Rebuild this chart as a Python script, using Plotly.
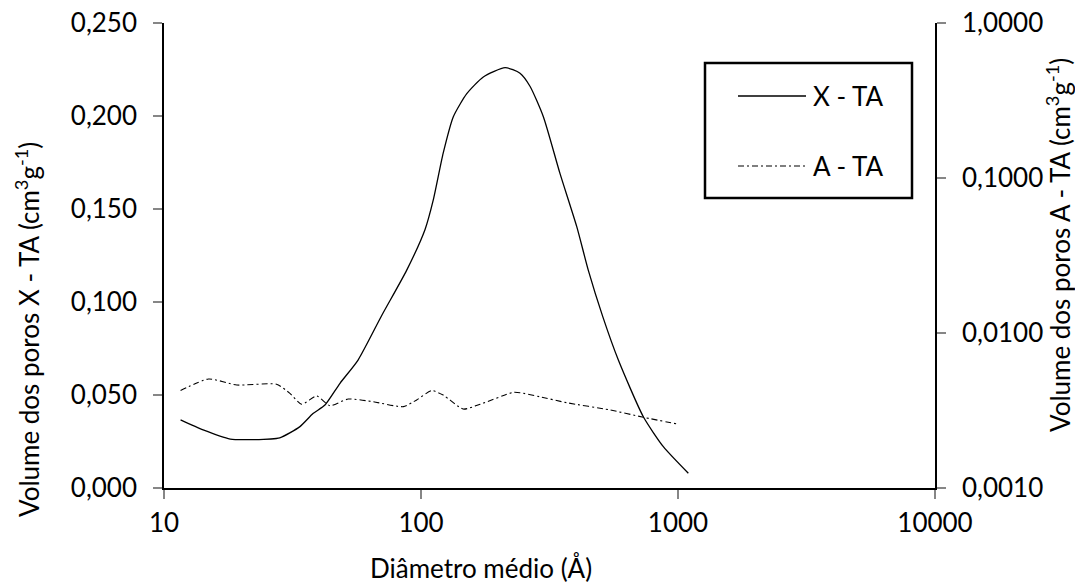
import plotly.graph_objects as go

# ---- data ----
x_xta = [11.6, 14.2, 18.1, 21.6, 28.2, 33.8, 38.0, 42.3, 48.4, 56.9, 70.5, 87.9,
         103.7, 111.7, 122.0, 133.6, 150.7, 174.8, 212.5, 242.8, 265.5, 299.3,
         347.5, 403.7, 447.8, 510.0, 586.0, 733.0, 877.0, 1097.0]
y_xta = [0.0366, 0.0312, 0.0263, 0.0260, 0.0270, 0.0330, 0.0400, 0.0446, 0.0563,
         0.0688, 0.0930, 0.1170, 0.1390, 0.1550, 0.1800, 0.1996, 0.2120, 0.2210,
         0.2260, 0.2230, 0.2160, 0.1996, 0.1690, 0.1405, 0.1170, 0.0920, 0.0688,
         0.0383, 0.0222, 0.0079]

x_ata = [11.6, 14.9, 19.2, 27.4, 30.9, 34.3, 39.3, 44.2, 52.1, 65.3, 85.4, 96.2,
         110.1, 122.0, 146.0, 169.8, 228.6, 242.8, 290.0, 369.0, 543.0, 733.0, 1002.0]
y_ata = [0.00425, 0.00505, 0.00462, 0.00467, 0.00408, 0.00347, 0.00392, 0.00340,
         0.00375, 0.00360, 0.00335, 0.00370, 0.00425, 0.00398, 0.00323, 0.00347,
         0.00414, 0.00412, 0.00388, 0.00355, 0.00319, 0.00286, 0.00258]

series_names = ["X - TA", "A - TA"]

x_ticks = [10, 100, 1000, 10000]
x_ticktext = ["10", "100", "1000", "10000"]
y1_ticks = [0.0, 0.05, 0.10, 0.15, 0.20, 0.25]
y1_ticktext = ["0,000", "0,050", "0,100", "0,150", "0,200", "0,250"]
y2_ticks = [0.001, 0.01, 0.1, 1.0]
y2_ticktext = ["0,0010", "0,0100", "0,1000", "1,0000"]

FONT = "Lato"
FS = 26
TICKC = "#868686"
DASH_A = "6px,3px,2px,3px"

# page-pixel -> paper helpers (plot area 164..935 x 23..488 on the page)
PX0, PX1, PY0, PY1 = 164, 935, 23, 488
def px(xp):
    return (xp - PX0) / (PX1 - PX0)
def py(yp):
    return (PY1 - yp) / (PY1 - PY0)

fig = go.Figure()
fig.add_trace(go.Scatter(x=x_xta, y=y_xta, mode="lines", name=series_names[0],
                         line=dict(color="black", width=1.3, shape="spline", smoothing=0.6),
                         yaxis="y"))
fig.add_trace(go.Scatter(x=x_ata, y=y_ata, mode="lines", name=series_names[1],
                         line=dict(color="black", width=1.1, shape="spline", smoothing=0.6,
                                   dash=DASH_A),
                         yaxis="y2"))

axis_common = dict(showgrid=False, zeroline=False, showline=True, linecolor="black",
                   linewidth=1.5, ticks="outside", ticklen=9, tickwidth=1.5,
                   tickcolor=TICKC, automargin=False,
                   tickfont=dict(family=FONT, size=FS, color="black"))

fig.update_layout(
    template="none",
    width=1075, height=584,
    margin=dict(l=164, r=140, t=23, b=96, autoexpand=False),
    paper_bgcolor="white", plot_bgcolor="white",
    font=dict(family=FONT, size=FS, color="black"),
    xaxis=dict(type="log", range=[1, 4], tickvals=x_ticks, ticktext=x_ticktext,
               ticklabelstandoff=2, **axis_common),
    yaxis=dict(range=[0, 0.25], tickvals=y1_ticks, ticktext=y1_ticktext,
               ticklabelstandoff=11, **axis_common),
    yaxis2=dict(type="log", range=[-3, 0], tickvals=y2_ticks, ticktext=y2_ticktext,
                overlaying="y", side="right", ticklabelstandoff=11, **axis_common),
    showlegend=False,
)

# legend box (drawn like the reference: long line samples)
fig.add_shape(type="rect", xref="paper", yref="paper",
              x0=px(705), x1=px(912), y0=py(198), y1=py(63),
              line=dict(color="black", width=2.5), fillcolor="white", layer="above")
fig.add_shape(type="line", xref="paper", yref="paper",
              x0=px(738), x1=px(806), y0=py(96), y1=py(96),
              line=dict(color="black", width=1.3))
fig.add_shape(type="line", xref="paper", yref="paper",
              x0=px(738), x1=px(806), y0=py(166), y1=py(166),
              line=dict(color="black", width=1.1, dash=DASH_A))
fig.add_annotation(text=series_names[0], xref="paper", yref="paper",
                   x=px(811), y=py(96), xanchor="left", yanchor="middle",
                   showarrow=False, font=dict(family=FONT, size=FS))
fig.add_annotation(text=series_names[1], xref="paper", yref="paper",
                   x=px(811), y=py(166), xanchor="left", yanchor="middle",
                   showarrow=False, font=dict(family=FONT, size=FS))

# axis titles
fig.add_annotation(text="Volume dos poros X - TA (cm<sup>3</sup>g<sup>-1</sup>)",
                   xref="paper", yref="paper", x=px(27), y=py(330),
                   xanchor="center", yanchor="middle", textangle=-90, showarrow=False,
                   font=dict(family=FONT, size=FS))
fig.add_annotation(text="Volume dos poros A - TA (cm<sup>3</sup>g<sup>-1</sup>)",
                   xref="paper", yref="paper", x=px(1058), y=py(245),
                   xanchor="center", yanchor="middle", textangle=-90, showarrow=False,
                   font=dict(family=FONT, size=FS))
fig.add_annotation(text="Diâmetro médio (Å)",
                   xref="paper", yref="paper", x=px(594), y=py(568),
                   xanchor="right", yanchor="middle", showarrow=False,
                   font=dict(family=FONT, size=FS))

fig.write_html("out.html", config={"displayModeBar": False},
               post_script="document.body.style.margin='0px';")
